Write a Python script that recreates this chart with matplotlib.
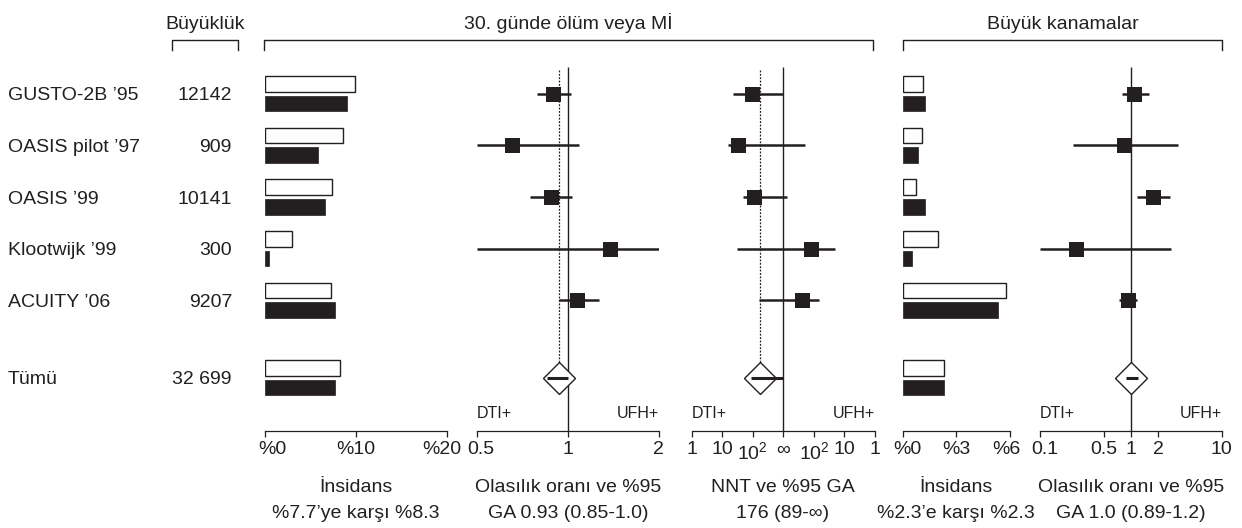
import numpy as np
import matplotlib.pyplot as plt
from matplotlib.transforms import ScaledTranslation

plt.rcParams['font.family'] = ['Liberation Sans', 'DejaVu Sans']
plt.rcParams['mathtext.fontset'] = 'custom'
plt.rcParams['mathtext.rm'] = 'Liberation Sans'
plt.rcParams['mathtext.it'] = 'Liberation Sans:italic'
plt.rcParams['mathtext.bf'] = 'Liberation Sans:bold'

INK = '#231f20'

trials = ["GUSTO-2B ’95", "OASIS pilot ’97", "OASIS ’99", "Klootwijk ’99", "ACUITY ’06"]
sizes = ["12142", "909", "10141", "300", "9207"]
pooled_name = "Tümü"
pooled_size = "32 699"

# 30 day death or MI: incidence (%) with UFH (open) and DTI (filled)
death_ufh = [9.9, 8.6, 7.4, 3.0, 7.3]
death_dti = [9.0, 5.8, 6.6, 0.45, 7.75]
death_ufh_all = 8.3
death_dti_all = 7.7

# odds ratio and 95% CI
or_death = [0.89, 0.65, 0.88, 1.37, 1.07]
or_death_lo = [0.79, 0.50, 0.75, 0.50, 0.93]
or_death_hi = [1.02, 1.09, 1.03, 2.0, 1.26]
or_death_all = [0.93, 0.85, 1.0]

# number needed to treat (negative = DTI benefit, positive = UFH benefit)
nnt = [-94, -34, -110, 121, 244]
nnt_lo = [-23, -15, -49, -31, -160]
nnt_hi = [np.inf, 190, 740, 21, 66]
nnt_all = [-176, -89, np.inf]

# major bleeding
bleed_ufh = [1.14, 1.1, 0.74, 2.0, 5.8]
bleed_dti = [1.23, 0.87, 1.25, 0.5, 5.35]
bleed_ufh_all = 2.3
bleed_dti_all = 2.3
or_bleed = [1.09, 0.85, 1.76, 0.25, 0.93]
or_bleed_lo = [0.79, 0.23, 1.16, 0.10, 0.74]
or_bleed_hi = [1.57, 3.29, 2.69, 2.74, 1.16]
or_bleed_all = [1.0, 0.89, 1.2]

nnt_ticks = [-3, -2, -1, 0, 1, 2, 3]
nnt_ticklabels = ['1', '10', '10$^2$', '∞', '10$^2$', '10', '1']

W, H = 1242, 528
TOP, BOT = 40, 431
ROW0, STEP = 93.8, 51.6
FS = 14

rows = np.arange(len(trials))
ALL = 5.5


def row_of(px):
    return (px - ROW0) / STEP


def px_of(row):
    return ROW0 + STEP * row


def nnt_axis(n):
    n = np.asarray(n, dtype=float)
    with np.errstate(divide='ignore', invalid='ignore'):
        p = np.sign(n) * (3 - np.log10(np.abs(n)))
    return np.where(np.isinf(n), 0.0, p)


fig = plt.figure(figsize=(W / 100, H / 100), dpi=100)

# page-level overlay in pixel units for headers, brackets and captions
top = fig.add_axes([0, 0, 1, 1])
top.set_xlim(0, W)
top.set_ylim(H, 0)
top.axis('off')


def panel(x0, x1):
    ax = fig.add_axes([x0 / W, 1 - BOT / H, (x1 - x0) / W, (BOT - TOP) / H])
    ax.set_ylim(row_of(BOT), row_of(TOP))
    ax.patch.set_visible(False)
    for s in ['top', 'left', 'right']:
        ax.spines[s].set_visible(False)
    ax.spines['bottom'].set_color(INK)
    ax.spines['bottom'].set_linewidth(0.9)
    return ax


def finish(ax, ticks, labels, shift_first=0, shift_last=0):
    ax.set_xticks(ticks)
    ax.set_xticklabels(labels)
    ax.minorticks_off()
    ax.tick_params(axis='x', direction='out', length=4.5, width=0.9, pad=3,
                   labelsize=FS, colors=INK)
    ax.tick_params(axis='y', left=False, labelleft=False)
    # nudge the end labels inwards so neighbouring axes don't collide
    tl = ax.get_xticklabels()
    for lab, dx in ((tl[0], shift_first), (tl[-1], shift_last)):
        if dx:
            lab.set_transform(lab.get_transform()
                              + ScaledTranslation(dx / 100, 0, fig.dpi_scale_trans))


def incidence(ax, ufh, dti, ufh_all, dti_all):
    ys = np.array(list(rows) + [ALL])
    ax.barh(ys - 0.19, list(ufh) + [ufh_all], height=0.30,
            color='white', edgecolor=INK, linewidth=1.0)
    ax.barh(ys + 0.19, list(dti) + [dti_all], height=0.30,
            color=INK, edgecolor=INK, linewidth=0.5)


def forest(ax, est, lo, hi, pooled, ref, dotted=True):
    ax.vlines(ref, row_of(67), row_of(BOT), color=INK, lw=1.0, zorder=1)
    if dotted:
        ax.vlines(pooled[0], row_of(70), ALL - 15.7 / STEP, color=INK, lw=0.9,
                  linestyles=(0, (1.5, 1.2)), zorder=1)
    ax.hlines(rows, lo, hi, color=INK, lw=1.8, zorder=2)
    ax.plot(est, rows, 's', ms=10.8, color=INK, mew=0, zorder=3)
    ax.plot(pooled[0], ALL, 'D', ms=16, mfc='white', mec=INK, mew=1.0, zorder=3)
    ax.hlines(ALL, pooled[1], pooled[2], color=INK, lw=2.2, zorder=4)
    x0, x1 = ax.get_xlim()
    ax.text(x0, row_of(414), 'DTI+', ha='left', va='center', fontsize=11.5, color=INK)
    ax.text(x1, row_of(414), 'UFH+', ha='right', va='center', fontsize=11.5, color=INK)


# incidence of death or MI
ax1 = panel(265, 446.7)
ax1.set_xlim(0, 20)
incidence(ax1, death_ufh, death_dti, death_ufh_all, death_dti_all)
finish(ax1, [0, 10, 20], ['%0', '%10', '%20'], shift_first=7, shift_last=-5)

# odds ratio, death or MI
ax2 = panel(477, 659.3)
ax2.set_xscale('log')
ax2.set_xlim(0.5, 2)
forest(ax2, or_death, or_death_lo, or_death_hi, or_death_all, 1)
finish(ax2, [0.5, 1, 2], ['0.5', '1', '2'], shift_first=4, shift_last=-1)

# number needed to treat
ax3 = panel(691.7, 875)
ax3.set_xlim(-3, 3)
forest(ax3, nnt_axis(nnt), nnt_axis(nnt_lo), nnt_axis(nnt_hi),
       nnt_axis(nnt_all), 0)
finish(ax3, nnt_ticks, nnt_ticklabels)

# incidence of major bleeding
ax4 = panel(902.7, 1010)
ax4.set_xlim(0, 6)
incidence(ax4, bleed_ufh, bleed_dti, bleed_ufh_all, bleed_dti_all)
finish(ax4, [0, 3, 6], ['%0', '%3', '%6'], shift_first=5, shift_last=-4)

# odds ratio, major bleeding
ax5 = panel(1040, 1221.7)
ax5.set_xscale('log')
ax5.set_xlim(0.1, 10)
forest(ax5, or_bleed, or_bleed_lo, or_bleed_hi, or_bleed_all, 1, dotted=False)
finish(ax5, [0.1, 0.5, 1, 2, 10], ['0.1', '0.5', '1', '2', '10'], shift_first=5)

# headers with brackets
headers = [(171.7, 238.3, 'Büyüklük'),
           (264, 873, '30. günde ölüm veya Mİ'),
           (903, 1222, 'Büyük kanamalar')]
for x0, x1, label in headers:
    top.plot([x0, x0, x1, x1], [49.5, 39.5, 39.5, 49.5], color=INK, lw=1.0)
    top.text((x0 + x1) / 2, 29, label, ha='center', va='baseline', fontsize=FS, color=INK)

# trial names and sizes
for r, name, n in zip(list(rows) + [ALL], trials + [pooled_name], sizes + [pooled_size]):
    top.text(8, px_of(r) + 2, name, ha='left', va='center', fontsize=FS, color=INK)
    top.text(232, px_of(r) + 2, n, ha='right', va='center', fontsize=FS, color=INK)

# captions under each axis
captions = [(356, 'İnsidans', '%7.7’ye karşı %8.3'),
            (568, 'Olasılık oranı ve %95', 'GA 0.93 (0.85-1.0)'),
            (783, 'NNT ve %95 GA', '176 (89-∞)'),
            (956, 'İnsidans', '%2.3’e karşı %2.3'),
            (1131, 'Olasılık oranı ve %95', 'GA 1.0 (0.89-1.2)')]
for x, l1, l2 in captions:
    top.text(x, 487, l1, ha='center', va='center', fontsize=FS, color=INK)
    top.text(x, 513, l2, ha='center', va='center', fontsize=FS, color=INK)

fig.savefig('out.png', dpi=100)
